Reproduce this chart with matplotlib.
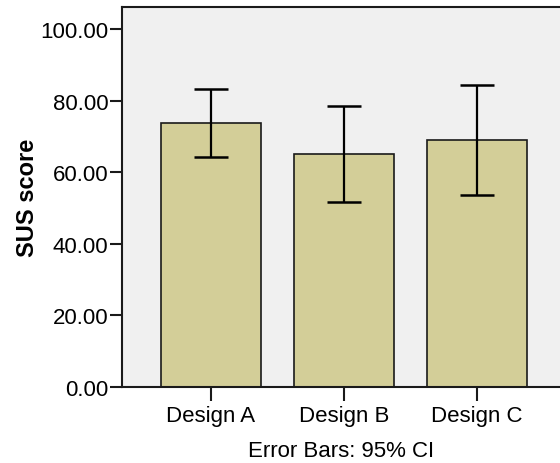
import matplotlib.pyplot as plt
import numpy as np

plt.rcParams['font.family'] = ['Liberation Sans', 'DejaVu Sans']

# Data
designs = ["Design A", "Design B", "Design C"]
means = [73.9, 65.1, 69.1]
ci_low = [64.2, 51.7, 53.6]
ci_high = [83.2, 78.6, 84.4]
y_ticks = [0, 20, 40, 60, 80, 100]

fig = plt.figure(figsize=(5.6, 4.64), dpi=100)
ax = fig.add_axes([0.2179, 0.1644, 0.782, 0.8183])
ax.set_facecolor("#F0F0F0")

x = np.arange(len(designs))
ax.bar(x, means, width=0.756, color="#D3CE98", edgecolor="#1a1a1a", linewidth=1.2, zorder=2)

means_arr = np.array(means)
err = [means_arr - np.array(ci_low), np.array(ci_high) - means_arr]
ax.errorbar(x, means, yerr=err, fmt="none", ecolor="black", elinewidth=1.6,
            capsize=12, capthick=1.8, zorder=3)

ax.set_xlim(-0.669, 2.624)
ax.set_ylim(0, 106.2)
ax.set_xticks(x)
ax.set_xticklabels(designs, fontsize=16)
ax.set_yticks(y_ticks)
ax.set_yticklabels([f"{v:.2f}" for v in y_ticks], fontsize=16)
ax.tick_params(axis="x", direction="out", length=10, width=1.5, color="#1a1a1a", pad=3)
ax.tick_params(axis="y", direction="out", length=9, width=1.5, color="#1a1a1a", pad=1)

for side in ["left", "bottom", "top"]:
    ax.spines[side].set_linewidth(1.5)
    ax.spines[side].set_color("#1a1a1a")
ax.spines["right"].set_visible(False)

ax.set_ylabel("SUS score", fontsize=17, fontweight="bold", labelpad=1)
ax.set_xlabel("Error Bars: 95% CI", fontsize=16, labelpad=10)

fig.savefig("out.png", dpi=100)
